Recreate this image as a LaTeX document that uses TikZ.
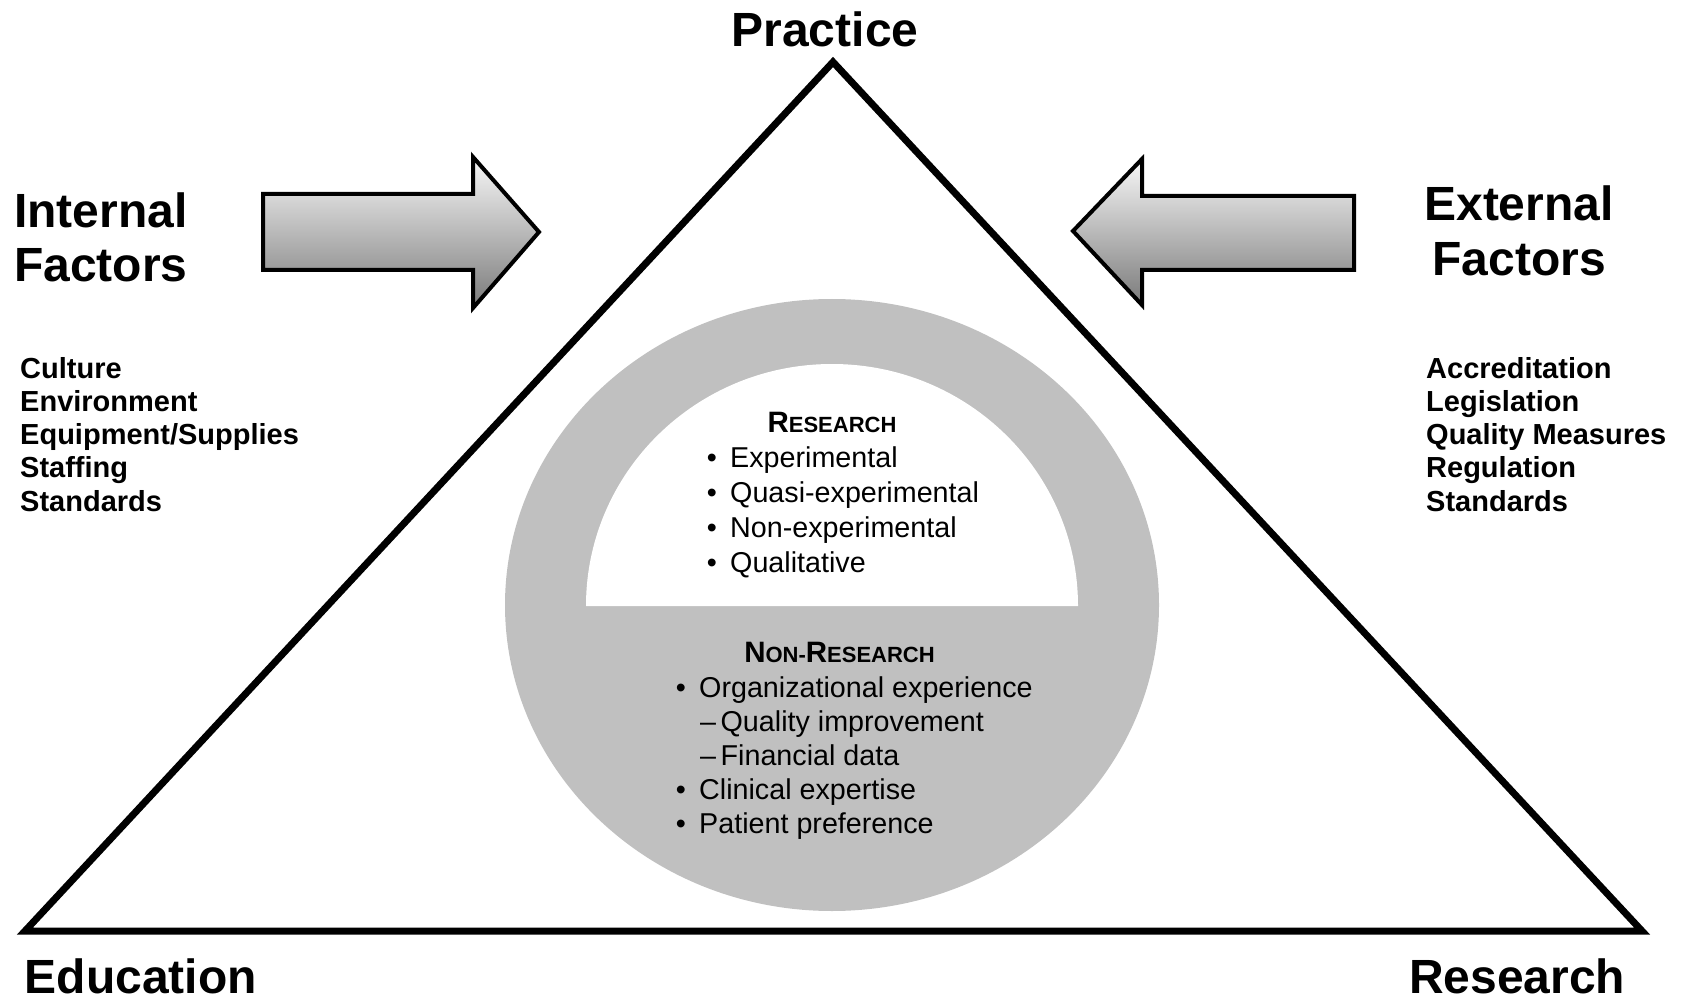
\documentclass[tikz,border=0pt]{standalone}
\usepackage{fontspec}
\setmainfont{Liberation Sans}
\usepackage{tikz}
\usetikzlibrary{positioning}

\definecolor{ringgray}{RGB}{192,192,192}

% fake small capitals: big first letter, smaller rest
\newcommand{\Smcaps}[2]{{\fontsize{29.5}{30}\selectfont #1}{\fontsize{22}{30}\selectfont #2}}
\newcommand{\Bul}{\makebox[23.4pt][l]{\textbullet}}

\begin{document}
\begin{tikzpicture}
  [
    x=1pt, y=-1pt,
    Corner/.style={font=\fontsize{48}{52}\selectfont\bfseries, inner sep=0pt},
    List/.style={font=\fontsize{29}{33}\selectfont\bfseries, inner sep=0pt, anchor=base west},
    Item/.style={font=\fontsize{28.7}{34}\selectfont, inner sep=0pt, anchor=base west},
    Head/.style={font=\bfseries, inner sep=0pt, anchor=base},
    BlockArrow/.style={draw=black, line width=4pt, line join=miter, top color=black!3, bottom color=black!52}
  ]
  \useasboundingbox (0,0) rectangle (1684,1000);

  % Corners of the triangle
  \coordinate (prac) at (833, 62);
  \coordinate (edu) at (25, 931);
  \coordinate (res) at (1642, 931);

  % Evidence disc
  \fill[ringgray] (832, 605) ellipse [x radius=327, y radius=306];
  \fill[white] (586, 606) arc [start angle=180, end angle=360, x radius=246, y radius=242] -- cycle;

  \draw[line width=7pt, line join=miter] (edu) -- (prac) -- (res) -- cycle;

  % Block arrows
  \path[BlockArrow] (263,194) -- (473,194) -- (473,157) -- (539,232) -- (473,308) -- (473,270) -- (263,270) -- cycle;
  \path[BlockArrow] (1354,196) -- (1142,196) -- (1142,159) -- (1073,231) -- (1142,305) -- (1142,270) -- (1354,270) -- cycle;

  % Nodes
  \node[Corner, anchor=base] (practice) at (825, 47) {Practice};
  \node[Corner, anchor=base west] (education) at (24.5, 993) {Education};
  \node[Corner, anchor=base west] (research) at (1409, 993) {Research};

  \node[Corner, anchor=base west] (internal) at (14, 227.5) {Internal};
  \node[Corner, anchor=base west] (intfactors) at (14, 282) {Factors};
  \node[Corner, anchor=base] (external) at (1519, 221) {External};
  \node[Corner, anchor=base] (extfactors) at (1519, 276) {Factors};

  \foreach \txt [count=\i] in {Culture, Environment, Equipment/Supplies, Staffing, Standards}
    \node[List] (int\i) at (20, 378+33.3*\i-33.3) {\txt};
  \foreach \txt [count=\i] in {Accreditation, Legislation, Quality Measures, Regulation, Standards}
    \node[List] (ext\i) at (1426, 378+33.3*\i-33.3) {\txt};

  % Inside the disc
  \node[Head] (reshead) at (832, 432) {\Smcaps{R}{ESEARCH}};
  \foreach \txt [count=\i] in {Experimental, Quasi-experimental, Non-experimental, Qualitative}
    \node[Item] (r\i) at (706.6, 467+35.3*\i-35.3) {\Bul\txt};

  \node[Head] (nonhead) at (839.5, 662) {\Smcaps{N}{ON-}\Smcaps{R}{ESEARCH}};
  \node[Item] (nr1) at (675.6, 697) {\Bul Organizational experience};
  \node[Item] (nr2) at (700, 731) {--\hspace{4.5pt}Quality improvement};
  \node[Item] (nr3) at (700, 765) {--\hspace{4.5pt}Financial data};
  \node[Item] (nr4) at (675.6, 799) {\Bul Clinical expertise};
  \node[Item] (nr5) at (675.6, 833) {\Bul Patient preference};

\end{tikzpicture}
\end{document}
